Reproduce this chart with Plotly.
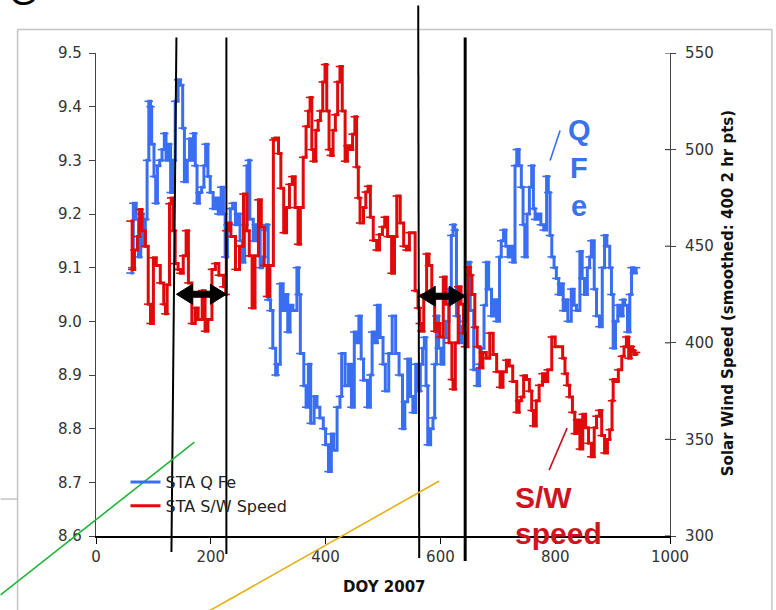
import plotly.graph_objects as go

# ---------------- data ----------------
qfe_doy = [60, 63, 65, 70, 74, 78, 82, 86, 89, 92, 95, 97, 101, 104, 107, 111, 115, 119, 122, 126,
           130, 134, 138, 143, 147, 151, 154, 159, 163, 166, 170, 173, 176, 180, 184, 188, 191, 195, 199, 204,
           209, 213, 218, 222, 225, 229, 234, 238, 243, 247, 251, 255, 259, 263, 266, 268, 274, 278, 282, 286,
           290, 294, 297, 300, 304, 308, 313, 316, 321, 326, 330, 334, 338, 343, 350, 353, 356, 362, 366, 370,
           374, 380, 385, 390, 396, 400, 405, 410, 414, 420, 425, 428, 434, 440, 445, 450, 455, 458, 462, 466,
           473, 478, 481, 486, 490, 495, 500, 504, 510, 516, 522, 528, 534, 538, 543, 548, 552, 557, 562, 565,
           569, 572, 575, 578, 583, 587, 590, 593, 597, 601, 606, 610, 615, 619, 622, 625, 628, 633, 637, 640,
           645, 649, 652, 658, 664, 668, 671, 676, 680, 684, 689, 694, 698, 703, 706, 710, 714, 718, 722, 726,
           730, 733, 737, 741, 744, 747, 751, 755, 759, 762, 765, 770, 775, 780, 785, 788, 791, 794, 798, 802,
           806, 810, 814, 818, 822, 828, 833, 837, 843, 847, 851, 856, 860, 863, 868, 872, 877, 882, 886, 890,
           895, 898, 901, 905, 909, 914, 918, 921, 926, 930, 933, 937, 941]
qfe_val = [9.09, 9.10, 9.22, 9.19, 9.12, 9.20, 9.14, 9.19, 9.30, 9.41, 9.40, 9.33, 9.27, 9.22, 9.29, 9.30, 9.32, 9.35, 9.30, 9.33,
           9.24, 9.30, 9.41, 9.45, 9.44, 9.36, 9.26, 9.30, 9.34, 9.30, 9.35, 9.29, 9.22, 9.24, 9.25, 9.29, 9.33, 9.27, 9.24, 9.21,
           9.23, 9.20, 9.25, 9.20, 9.12, 9.18, 9.21, 9.22, 9.18, 9.20, 9.15, 9.11, 9.18, 9.29, 9.30, 9.19, 9.15, 9.18, 9.18, 9.10,
           9.12, 9.17, 9.18, 9.04, 9.02, 8.95, 8.90, 8.92, 9.07, 9.02, 9.05, 8.98, 9.03, 9.02, 9.10, 9.05, 8.94, 8.88, 8.84, 8.92,
           8.81, 8.86, 8.84, 8.82, 8.80, 8.77, 8.72, 8.79, 8.76, 8.84, 8.86, 8.94, 8.88, 8.92, 8.84, 8.98, 8.96, 9.01, 8.93, 8.89,
           8.84, 8.90, 8.98, 8.96, 9.03, 8.97, 8.92, 8.87, 8.94, 9.01, 8.94, 8.90, 8.80, 8.85, 8.93, 8.86, 8.83, 8.92, 8.87, 8.92,
           8.95, 8.97, 8.88, 8.77, 8.80, 8.82, 8.92, 9.01, 8.95, 8.92, 8.97, 9.00, 9.06, 9.16, 9.18, 9.17, 9.01, 8.96, 8.99, 9.00,
           9.05, 9.11, 9.02, 8.91, 8.88, 8.92, 8.95, 9.03, 9.11, 9.06, 9.01, 9.04, 9.00, 9.12, 9.15, 9.17, 9.14, 9.12, 9.14, 9.11,
           9.29, 9.32, 9.29, 9.25, 9.18, 9.12, 9.20, 9.25, 9.29, 9.21, 9.19, 9.20, 9.18, 9.17, 9.27, 9.24, 9.16, 9.12, 9.10, 9.08,
           9.05, 9.07, 9.02, 9.04, 9.00, 9.06, 9.03, 9.02, 9.13, 9.08, 9.05, 9.10, 9.12, 9.15, 9.06, 9.01, 8.99, 9.10, 9.16, 9.14,
           9.10, 9.05, 8.95, 9.00, 9.03, 9.01, 9.04, 9.03, 8.98, 9.05, 9.10, 9.09, 9.10]

sw_doy = [60, 63, 67, 72, 76, 80, 86, 91, 95, 100, 105, 112, 118, 121, 124, 128, 131, 134, 138, 143,
          147, 152, 157, 161, 167, 173, 178, 185, 190, 195, 202, 208, 214, 222, 226, 227, 231, 235, 243, 250,
          257, 263, 267, 272, 277, 283, 288, 293, 298, 303, 309, 312, 318, 322, 327, 332, 337, 342, 347, 352,
          356, 361, 366, 370, 373, 376, 379, 383, 387, 391, 395, 399, 402, 406, 409, 413, 417, 421, 425, 429,
          434, 438, 443, 447, 451, 454, 457, 460, 466, 470, 474, 478, 483, 489, 494, 499, 503, 508, 515, 520,
          524, 530, 536, 541, 546, 550, 556, 561, 564, 567, 571, 576, 580, 585, 590, 595, 599, 605, 610, 615,
          620, 622, 626, 631, 636, 640, 643, 648, 652, 655, 660, 664, 669, 674, 680, 686, 692, 698, 704, 709,
          715, 720, 726, 733, 737, 741, 745, 750, 755, 759, 762, 767, 772, 778, 782, 787, 794, 800, 808, 813,
          817, 821, 825, 830, 834, 838, 843, 848, 853, 858, 863, 868, 872, 877, 881, 886, 891, 895, 899, 901,
          905, 910, 916, 920, 924, 928, 932, 935, 938, 941]
sw_val = [463, 438, 448, 455, 469, 458, 450, 420, 410, 444, 440, 431, 420, 415, 430, 472, 475, 458, 441, 438,
          436, 445, 458, 431, 410, 418, 412, 427, 406, 412, 438, 441, 435, 429, 425, 458, 462, 455, 438, 450,
          477, 458, 445, 418, 445, 474, 460, 440, 424, 440, 505, 506, 498, 480, 457, 470, 482, 486, 470, 451,
          470, 496, 512, 520, 527, 500, 494, 510, 515, 520, 535, 544, 520, 500, 497, 510, 518, 535, 543, 520,
          494, 502, 500, 508, 517, 491, 475, 462, 470, 478, 481, 465, 453, 448, 456, 460, 465, 455, 436, 455,
          476, 462, 450, 448, 457, 457, 427, 418, 410, 406, 425, 446, 440, 425, 406, 410, 403, 434, 420, 400,
          381, 376, 400, 429, 420, 405, 398, 439, 435, 425, 408, 398, 387, 395, 392, 405, 394, 385, 377, 385,
          391, 388, 380, 364, 370, 372, 383, 381, 375, 365, 357, 370, 378, 384, 380, 386, 403, 398, 398, 392,
          384, 378, 372, 364, 353, 360, 345, 363, 356, 348, 341, 356, 362, 365, 352, 343, 350, 355, 370, 381,
          380, 386, 393, 398, 403, 392, 398, 396, 394, 395]

x_ticks = [0, 200, 400, 600, 800, 1000]
left_ticks = [8.6, 8.7, 8.8, 8.9, 9.0, 9.1, 9.2, 9.3, 9.4, 9.5]
right_ticks = [300, 350, 400, 450, 500, 550]

# ---------------- layout geometry (pixels) ----------------
W, H = 776, 610
L, R, T, B = 95.5, 670.0, 52.5, 536.0


def px(x):
    return (x - L) / (R - L)


def py(y):
    return (B - y) / (B - T)


BLUE = "#3a6ef2"
RED = "#e00a0a"
TXT = "#333333"
FONT = "DejaVu Sans"

fig = go.Figure()
fig.add_trace(go.Scatter(
    x=qfe_doy, y=qfe_val, name="STA Q Fe", mode="lines+markers",
    line=dict(color=BLUE, width=3, shape="hv"),
    marker=dict(symbol="line-ew", size=6, line=dict(color=BLUE, width=1.6)),
    yaxis="y"))
fig.add_trace(go.Scatter(
    x=sw_doy, y=sw_val, name="STA S/W Speed", mode="lines+markers",
    line=dict(color=RED, width=3, shape="hv"),
    marker=dict(symbol="line-ew", size=6, line=dict(color=RED, width=1.6)),
    yaxis="y2"))

shapes = []


def seg(x0, y0, x1, y1, color="black", width=2):
    shapes.append(dict(type="line", xref="paper", yref="paper",
                       x0=px(x0), y0=py(y0), x1=px(x1), y1=py(y1),
                       line=dict(color=color, width=width), layer="above"))


# outer grey frame
FR = "#c4c4c4"
seg(17, 29, 17, 610, FR, 1.5)
seg(17, 29, 772, 29, FR, 1.5)
seg(772, 29, 772, 610, FR, 1.5)
seg(0, 499, 17, 499, FR, 1.5)

# vertical markers
seg(176, 37, 171, 552, "black", 2)
seg(226, 37, 226, 554, "black", 2)
seg(418, 5, 419, 558, "black", 2)
seg(465, 37, 465, 561, "black", 3)

# green and yellow lines
seg(0, 595, 194, 442, "#22b53a", 1.6)
seg(207, 612, 439, 481, "#e6b014", 1.6)

# pointer lines
seg(550, 160, 560, 130, BLUE, 1.6)
seg(549, 470, 567, 428, "#c8101e", 1.6)


def arrow(x0, x1, yc, h=16, hh=10, st=3):
    pts = [(x0, yc), (x0 + h, yc - hh), (x0 + h, yc - st), (x1 - h, yc - st), (x1 - h, yc - hh),
           (x1, yc), (x1 - h, yc + hh), (x1 - h, yc + st), (x0 + h, yc + st), (x0 + h, yc + hh)]
    path = "M " + " L ".join(f"{px(a):.5f},{py(b):.5f}" for a, b in pts) + " Z"
    shapes.append(dict(type="path", xref="paper", yref="paper", path=path,
                       fillcolor="black", line=dict(color="black", width=1), layer="above"))


arrow(176, 226, 294)
arrow(419, 465, 296)

# crossing ticks on the right axis (inner half)
for v in right_ticks:
    shapes.append(dict(type="line", xref="paper", yref="y2", x0=px(665), x1=1.0, y0=v, y1=v,
                       line=dict(color="#444", width=1.2), layer="above"))

ann = []
ann.append(dict(text="<b>DOY 2007</b>", x=px(384), y=py(587), xref="paper", yref="paper",
                showarrow=False, font=dict(family=FONT, size=15, color="#111"),
                xanchor="center", yanchor="middle"))
ann.append(dict(text="<b>Solar Wind Speed (smoothed: 400 2 hr pts)</b>", x=px(728), y=py(293),
                xref="paper", yref="paper", showarrow=False, textangle=-90,
                font=dict(family=FONT, size=15, color="#111"), xanchor="center", yanchor="middle"))
for ch, yy in (("Q", 130), ("F", 168), ("e", 206)):
    ann.append(dict(text=f"<b>{ch}</b>", x=px(579), y=py(yy), xref="paper", yref="paper",
                    showarrow=False, font=dict(family="Liberation Sans", size=29, color="#3b72ea"),
                    xanchor="center", yanchor="middle"))
ann.append(dict(text="<b>S/W</b>", x=px(513), y=py(497), xref="paper", yref="paper",
                showarrow=False, font=dict(family="Liberation Sans", size=30, color="#d0141e"),
                xanchor="left", yanchor="middle"))
ann.append(dict(text="<b>speed</b>", x=px(513), y=py(533), xref="paper", yref="paper",
                showarrow=False, font=dict(family="Liberation Sans", size=30, color="#d0141e"),
                xanchor="left", yanchor="middle"))
ann.append(dict(text="G", x=px(22), y=py(-8), xref="paper", yref="paper",
                showarrow=False, font=dict(family="Liberation Sans", size=36, color="black"),
                xanchor="center", yanchor="middle"))

fig.update_layout(
    width=W, height=H,
    margin=dict(l=L, r=W - R, t=T, b=H - B, pad=0),
    paper_bgcolor="white", plot_bgcolor="white",
    font=dict(family=FONT, size=15, color=TXT),
    showlegend=True,
    legend=dict(x=px(125), y=py(465), xanchor="left", yanchor="top",
                bgcolor="rgba(0,0,0,0)", itemwidth=30, tracegroupgap=0,
                font=dict(family=FONT, size=16, color="#222")),
    xaxis=dict(range=[0, 1000], tickvals=x_ticks, showgrid=False, zeroline=False,
               showline=True, linecolor="black", linewidth=1.5, ticks="outside",
               ticklen=6, tickcolor="black", tickfont=dict(family=FONT, size=15, color=TXT)),
    yaxis=dict(range=[8.6, 9.5], tickvals=left_ticks, tickformat=".1f", showgrid=False,
               zeroline=False, showline=True, linecolor="#444", linewidth=1.2,
               ticks="outside", ticklen=6, tickcolor="#444", ticklabelstandoff=4,
               tickfont=dict(family=FONT, size=15, color=TXT)),
    yaxis2=dict(range=[300, 550], tickvals=right_ticks, overlaying="y", side="right",
                anchor="x", showgrid=False, zeroline=False, showline=True, linecolor="#444",
                linewidth=1.2, ticks="outside", ticklen=5, tickcolor="#444", ticklabelstandoff=6,
                tickfont=dict(family=FONT, size=15, color=TXT)),
    shapes=shapes, annotations=ann,
)

fig.write_html("out.html")
